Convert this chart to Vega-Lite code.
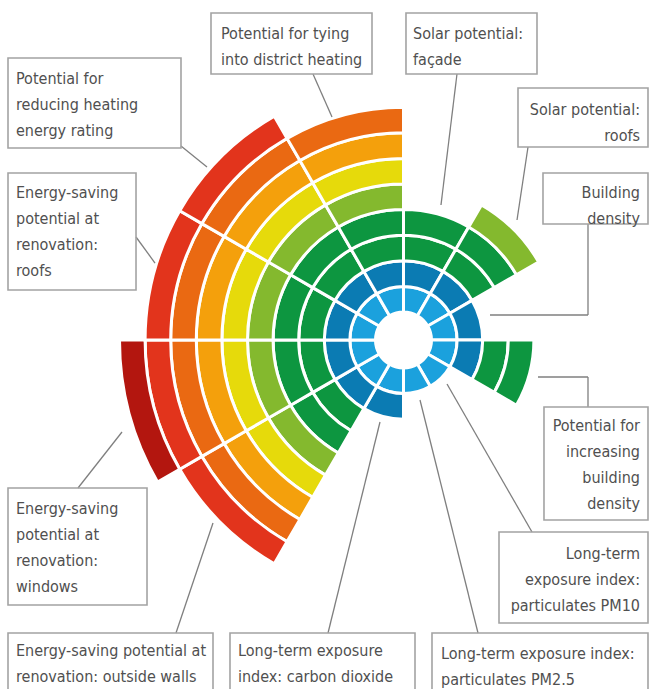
{
  "$schema": "https://vega.github.io/schema/vega-lite/v6.json",
  "width": 650,
  "height": 689,
  "padding": 0,
  "autosize": {"type": "none"},
  "background": "white",
  "config": {"view": {"stroke": null}},
  "datasets": {
    "cells": [
      {"indicator": "Solar potential: façade", "level": 1},
      {"indicator": "Solar potential: façade", "level": 2},
      {"indicator": "Solar potential: façade", "level": 3},
      {"indicator": "Solar potential: façade", "level": 4},
      {"indicator": "Solar potential: roofs", "level": 1},
      {"indicator": "Solar potential: roofs", "level": 2},
      {"indicator": "Solar potential: roofs", "level": 3},
      {"indicator": "Solar potential: roofs", "level": 4},
      {"indicator": "Solar potential: roofs", "level": 5},
      {"indicator": "Building density", "level": 1},
      {"indicator": "Building density", "level": 2},
      {"indicator": "Potential for increasing building density", "level": 1},
      {"indicator": "Potential for increasing building density", "level": 2},
      {"indicator": "Potential for increasing building density", "level": 3},
      {"indicator": "Potential for increasing building density", "level": 4},
      {"indicator": "Long-term exposure index: particulates PM10", "level": 1},
      {"indicator": "Long-term exposure index: particulates PM2.5", "level": 1},
      {"indicator": "Long-term exposure index: carbon dioxide", "level": 1},
      {"indicator": "Long-term exposure index: carbon dioxide", "level": 2},
      {"indicator": "Energy-saving potential at renovation: outside walls", "level": 1},
      {"indicator": "Energy-saving potential at renovation: outside walls", "level": 2},
      {"indicator": "Energy-saving potential at renovation: outside walls", "level": 3},
      {"indicator": "Energy-saving potential at renovation: outside walls", "level": 4},
      {"indicator": "Energy-saving potential at renovation: outside walls", "level": 5},
      {"indicator": "Energy-saving potential at renovation: outside walls", "level": 6},
      {"indicator": "Energy-saving potential at renovation: outside walls", "level": 7},
      {"indicator": "Energy-saving potential at renovation: outside walls", "level": 8},
      {"indicator": "Energy-saving potential at renovation: outside walls", "level": 9},
      {"indicator": "Energy-saving potential at renovation: windows", "level": 1},
      {"indicator": "Energy-saving potential at renovation: windows", "level": 2},
      {"indicator": "Energy-saving potential at renovation: windows", "level": 3},
      {"indicator": "Energy-saving potential at renovation: windows", "level": 4},
      {"indicator": "Energy-saving potential at renovation: windows", "level": 5},
      {"indicator": "Energy-saving potential at renovation: windows", "level": 6},
      {"indicator": "Energy-saving potential at renovation: windows", "level": 7},
      {"indicator": "Energy-saving potential at renovation: windows", "level": 8},
      {"indicator": "Energy-saving potential at renovation: windows", "level": 9},
      {"indicator": "Energy-saving potential at renovation: windows", "level": 10},
      {"indicator": "Energy-saving potential at renovation: roofs", "level": 1},
      {"indicator": "Energy-saving potential at renovation: roofs", "level": 2},
      {"indicator": "Energy-saving potential at renovation: roofs", "level": 3},
      {"indicator": "Energy-saving potential at renovation: roofs", "level": 4},
      {"indicator": "Energy-saving potential at renovation: roofs", "level": 5},
      {"indicator": "Energy-saving potential at renovation: roofs", "level": 6},
      {"indicator": "Energy-saving potential at renovation: roofs", "level": 7},
      {"indicator": "Energy-saving potential at renovation: roofs", "level": 8},
      {"indicator": "Energy-saving potential at renovation: roofs", "level": 9},
      {"indicator": "Potential for reducing heating energy rating", "level": 1},
      {"indicator": "Potential for reducing heating energy rating", "level": 2},
      {"indicator": "Potential for reducing heating energy rating", "level": 3},
      {"indicator": "Potential for reducing heating energy rating", "level": 4},
      {"indicator": "Potential for reducing heating energy rating", "level": 5},
      {"indicator": "Potential for reducing heating energy rating", "level": 6},
      {"indicator": "Potential for reducing heating energy rating", "level": 7},
      {"indicator": "Potential for reducing heating energy rating", "level": 8},
      {"indicator": "Potential for reducing heating energy rating", "level": 9},
      {"indicator": "Potential for tying into district heating", "level": 1},
      {"indicator": "Potential for tying into district heating", "level": 2},
      {"indicator": "Potential for tying into district heating", "level": 3},
      {"indicator": "Potential for tying into district heating", "level": 4},
      {"indicator": "Potential for tying into district heating", "level": 5},
      {"indicator": "Potential for tying into district heating", "level": 6},
      {"indicator": "Potential for tying into district heating", "level": 7},
      {"indicator": "Potential for tying into district heating", "level": 8}
    ],
    "labels": [
      {"indicator": "Potential for tying into district heating", "label": "Potential for tying\ninto district heating", "side": "left", "left": -7.579, "right": -1.24, "top": 12.874, "bottom": 10.472, "tx": -7.185, "ty": 11.85},
      {"indicator": "Solar potential: façade", "label": "Solar potential:\nfaçade", "side": "left", "left": 0.098, "right": 5.256, "top": 12.874, "bottom": 10.472, "tx": 0.374, "ty": 11.85},
      {"indicator": "Solar potential: roofs", "label": "Solar potential:\nroofs", "side": "right", "left": 4.508, "right": 9.626, "top": 9.921, "bottom": 7.598, "tx": 9.311, "ty": 8.858},
      {"indicator": "Building density", "label": "Building\ndensity", "side": "right", "left": 5.492, "right": 9.626, "top": 6.575, "bottom": 4.567, "tx": 9.311, "ty": 5.591},
      {"indicator": "Potential for increasing building density", "label": "Potential for\nincreasing\nbuilding\ndensity", "side": "right", "left": 5.531, "right": 9.626, "top": -2.638, "bottom": -7.087, "tx": 9.311, "ty": -3.583},
      {"indicator": "Long-term exposure index: particulates PM10", "label": "Long-term\nexposure index:\nparticulates PM10", "side": "right", "left": 3.76, "right": 9.626, "top": -7.559, "bottom": -11.142, "tx": 9.311, "ty": -8.622},
      {"indicator": "Long-term exposure index: particulates PM2.5", "label": "Long-term exposure index:\nparticulates PM2.5", "side": "left", "left": 1.122, "right": 9.626, "top": -11.535, "bottom": -14.2, "tx": 1.476, "ty": -12.559},
      {"indicator": "Long-term exposure index: carbon dioxide", "label": "Long-term exposure\nindex: carbon dioxide", "side": "left", "left": -6.831, "right": 0.453, "top": -11.535, "bottom": -14.2, "tx": -6.516, "ty": -12.441},
      {"indicator": "Energy-saving potential at renovation: outside walls", "label": "Energy-saving potential at\nrenovation: outside walls", "side": "left", "left": -15.571, "right": -7.5, "top": -11.535, "bottom": -14.2, "tx": -15.256, "ty": -12.441},
      {"indicator": "Energy-saving potential at renovation: windows", "label": "Energy-saving\npotential at\nrenovation:\nwindows", "side": "left", "left": -15.571, "right": -10.098, "top": -5.827, "bottom": -10.433, "tx": -15.256, "ty": -6.85},
      {"indicator": "Energy-saving potential at renovation: roofs", "label": "Energy-saving\npotential at\nrenovation:\nroofs", "side": "left", "left": -15.571, "right": -10.531, "top": 6.575, "bottom": 1.969, "tx": -15.256, "ty": 5.591},
      {"indicator": "Potential for reducing heating energy rating", "label": "Potential for\nreducing heating\nenergy rating", "side": "left", "left": -15.571, "right": -8.76, "top": 11.102, "bottom": 7.559, "tx": -15.256, "ty": 10.079}
    ],
    "leaders": [
      {"indicator": "Potential for tying into district heating", "x": -3.563, "y": 10.472, "x2": -2.815, "y2": 8.78},
      {"indicator": "Solar potential: façade", "x": 2.106, "y": 10.472, "x2": 1.476, "y2": 5.315},
      {"indicator": "Solar potential: roofs", "x": 4.902, "y": 7.598, "x2": 4.469, "y2": 4.724},
      {"indicator": "Building density", "x": 7.264, "y": 4.567, "x2": 7.264, "y2": 0.984},
      {"indicator": "Building density", "x": 7.264, "y": 0.984, "x2": 3.406, "y2": 0.984},
      {"indicator": "Potential for increasing building density", "x": 5.295, "y": -1.457, "x2": 7.264, "y2": -1.457},
      {"indicator": "Potential for increasing building density", "x": 7.264, "y": -1.457, "x2": 7.264, "y2": -2.638},
      {"indicator": "Long-term exposure index: particulates PM10", "x": 5.059, "y": -7.559, "x2": 1.713, "y2": -1.732},
      {"indicator": "Long-term exposure index: particulates PM2.5", "x": 2.933, "y": -11.535, "x2": 0.65, "y2": -2.362},
      {"indicator": "Long-term exposure index: carbon dioxide", "x": -2.972, "y": -11.535, "x2": -0.925, "y2": -3.228},
      {"indicator": "Energy-saving potential at renovation: outside walls", "x": -8.957, "y": -11.535, "x2": -7.5, "y2": -7.205},
      {"indicator": "Energy-saving potential at renovation: windows", "x": -12.815, "y": -5.827, "x2": -11.083, "y2": -3.622},
      {"indicator": "Energy-saving potential at renovation: roofs", "x": -10.531, "y": 4.055, "x2": -9.783, "y2": 3.031},
      {"indicator": "Potential for reducing heating energy rating", "x": -8.76, "y": 7.638, "x2": -7.736, "y2": 6.811}
    ]
  },
  "layer": [
    {
      "data": {"name": "cells"},
      "mark": {"type": "arc", "stroke": "white", "strokeWidth": 3},
      "encoding": {
        "x": {"datum": 0, "type": "quantitative", "scale": {"domain": [-15.886, 9.705], "nice": false, "zero": false}, "axis": null},
        "y": {"datum": 0, "type": "quantitative", "scale": {"domain": [-13.74, 13.386], "nice": false, "zero": false}, "axis": null},
        "theta": {
          "field": "indicator",
          "type": "nominal",
          "sort": null,
          "scale": {
            "type": "band",
            "paddingInner": 0,
            "paddingOuter": 0,
            "range": [0, 6.283185307179586],
            "domain": [
              "Solar potential: façade",
              "Solar potential: roofs",
              "Building density",
              "Potential for increasing building density",
              "Long-term exposure index: particulates PM10",
              "Long-term exposure index: particulates PM2.5",
              "Long-term exposure index: carbon dioxide",
              "Energy-saving potential at renovation: outside walls",
              "Energy-saving potential at renovation: windows",
              "Energy-saving potential at renovation: roofs",
              "Potential for reducing heating energy rating",
              "Potential for tying into district heating"
            ]
          }
        },
        "radius": {
          "field": "level",
          "type": "ordinal",
          "scale": {"type": "band", "paddingInner": 0, "paddingOuter": 0, "domain": [1, 2, 3, 4, 5, 6, 7, 8, 9, 10], "range": [28, 284]}
        },
        "color": {
          "field": "level",
          "type": "ordinal",
          "legend": null,
          "scale": {
            "domain": [1, 2, 3, 4, 5, 6, 7, 8, 9, 10],
            "range": ["#1ba1dd", "#0b7bb3", "#0d9640", "#0d9640", "#84b92e", "#e6da0b", "#f4a00c", "#ea6912", "#e2341c", "#b3160f"]
          }
        }
      }
    },
    {
      "data": {"name": "leaders"},
      "mark": {"type": "rule", "color": "#7f7f7f", "strokeWidth": 1.3},
      "encoding": {
        "x": {"field": "x", "type": "quantitative", "scale": {"domain": [-15.886, 9.705], "nice": false, "zero": false}, "axis": null},
        "y": {"field": "y", "type": "quantitative", "scale": {"domain": [-13.74, 13.386], "nice": false, "zero": false}, "axis": null},
        "x2": {"field": "x2"},
        "y2": {"field": "y2"}
      }
    },
    {
      "data": {"name": "labels"},
      "mark": {"type": "rect", "fill": "white", "fillOpacity": 0, "stroke": "#a3a3a3", "strokeWidth": 1.6, "clip": true},
      "encoding": {
        "x": {"field": "left", "type": "quantitative", "scale": {"domain": [-15.886, 9.705], "nice": false, "zero": false}, "axis": null},
        "y": {"field": "top", "type": "quantitative", "scale": {"domain": [-13.74, 13.386], "nice": false, "zero": false}, "axis": null},
        "x2": {"field": "right"},
        "y2": {"field": "bottom"}
      }
    },
    {
      "data": {"name": "labels"},
      "transform": [{"filter": "datum.side === 'left'"}],
      "mark": {"type": "text", "align": "left", "baseline": "alphabetic", "lineBreak": "\n", "lineHeight": 26, "font": "DejaVu Sans Condensed, sans-serif", "fontSize": 16, "color": "#505050"},
      "encoding": {
        "x": {"field": "tx", "type": "quantitative", "scale": {"domain": [-15.886, 9.705], "nice": false, "zero": false}, "axis": null},
        "y": {"field": "ty", "type": "quantitative", "scale": {"domain": [-13.74, 13.386], "nice": false, "zero": false}, "axis": null},
        "text": {"field": "label", "type": "nominal"}
      }
    },
    {
      "data": {"name": "labels"},
      "transform": [{"filter": "datum.side === 'right'"}],
      "mark": {"type": "text", "align": "right", "baseline": "alphabetic", "lineBreak": "\n", "lineHeight": 26, "font": "DejaVu Sans Condensed, sans-serif", "fontSize": 16, "color": "#505050"},
      "encoding": {
        "x": {"field": "tx", "type": "quantitative", "scale": {"domain": [-15.886, 9.705], "nice": false, "zero": false}, "axis": null},
        "y": {"field": "ty", "type": "quantitative", "scale": {"domain": [-13.74, 13.386], "nice": false, "zero": false}, "axis": null},
        "text": {"field": "label", "type": "nominal"}
      }
    }
  ]
}
